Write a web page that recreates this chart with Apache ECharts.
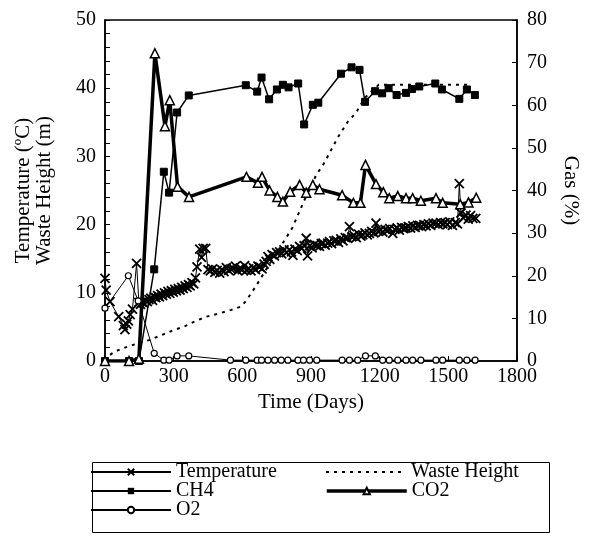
<!DOCTYPE html>
<html>
<head>
<meta charset="utf-8">
<script src="https://cdn.jsdelivr.net/npm/echarts@6/dist/echarts.min.js"></script>
<style>html,body{margin:0;padding:0;background:#fff;}#c{width:589px;height:536px;}</style>
</head>
<body>
<div id="c"></div>
<script>
// ---- data (day, value) ----
const xTicks = [0, 300, 600, 900, 1200, 1500, 1800];
const leftTicks = [0, 10, 20, 30, 40, 50];
const rightTicks = [0, 10, 20, 30, 40, 50, 60, 70, 80];

const temperature = [[0,12.1],[5,10.4],[22,8.7],[60,6.5],[80,5.2],[87,4.6],[95,5.4],[102,5.9],[110,6.8],[120,7.6],[138,14.3],[148,8.6],[155,8.3],[162,8.6],[170,8.5],[178,8.9],[185,8.7],[192,9.0],[200,9.2],[208,8.9],[215,9.4],[222,9.3],[230,9.6],[238,9.4],[245,9.8],[252,9.6],[260,10.0],[268,9.8],[275,10.2],[283,9.9],[290,10.3],[298,10.1],[305,10.5],[312,10.3],[320,10.6],[328,10.4],[335,10.8],[342,10.6],[350,11.0],[358,10.8],[365,11.2],[372,11.0],[380,11.5],[388,11.3],[395,12.2],[402,13.8],[414,16.4],[422,15.2],[429,16.5],[440,16.5],[450,13.4],[460,13.2],[470,13.5],[480,13.0],[490,13.3],[501,12.9],[510,13.4],[520,13.1],[530,13.7],[540,13.3],[550,13.5],[559,13.6],[570,13.9],[580,13.2],[590,13.6],[600,13.4],[610,14.0],[618,13.3],[628,13.5],[638,13.2],[648,13.7],[658,13.4],[668,13.9],[676,13.8],[686,13.5],[695,14.2],[704,14.6],[712,15.3],[720,14.9],[730,15.6],[740,15.4],[750,15.9],[763,16.0],[772,15.7],[782,16.3],[792,15.9],[806,16.3],[815,16.0],[821,15.5],[830,16.4],[840,16.2],[850,16.8],[860,16.5],[870,16.9],[879,18.0],[885,15.4],[895,16.9],[905,16.6],[915,17.1],[925,16.9],[937,16.8],[945,17.2],[952,17.3],[962,17.0],[973,17.3],[981,17.5],[990,17.2],[1000,17.6],[1010,17.7],[1020,17.4],[1030,17.9],[1040,17.6],[1050,18.1],[1060,18.0],[1068,19.7],[1078,18.2],[1088,18.4],[1098,18.1],[1108,18.6],[1118,18.3],[1126,18.5],[1136,18.8],[1146,18.5],[1155,18.7],[1165,19.0],[1175,18.8],[1184,20.2],[1194,19.0],[1204,19.2],[1214,18.9],[1224,19.3],[1234,19.1],[1244,19.4],[1257,18.7],[1266,19.3],[1276,19.5],[1286,19.2],[1296,19.6],[1306,19.4],[1315,19.5],[1325,19.7],[1335,19.5],[1345,19.8],[1355,19.6],[1365,19.9],[1373,19.9],[1383,19.7],[1393,20.0],[1403,19.8],[1413,20.1],[1423,19.9],[1433,20.2],[1446,20.2],[1456,20.0],[1466,20.3],[1476,20.1],[1486,20.3],[1496,20.0],[1506,20.4],[1518,19.9],[1530,20.3],[1540,20.1],[1548,26.0],[1555,21.7],[1565,21.0],[1577,21.4],[1587,20.8],[1597,21.3],[1607,20.9],[1620,20.9]];

const wasteHeight = [[22,0.9],[44,1.4],[106,2.2],[196,3.1],[247,3.8],[298,4.5],[349,5.1],[392,5.8],[443,6.5],[501,7.0],[552,7.5],[596,8.0],[618,8.9],[654,10.7],[680,12.1],[720,14.3],[760,16.4],[818,19.5],[870,23.5],[923,27.3],[952,28.7],[981,30.5],[1003,31.9],[1021,33.0],[1061,35.1],[1097,36.4],[1133,38.5],[1163,39.5],[1196,40.5],[1603,40.5]];

const ch4 = [[0,0],[105,0],[148,0],[215,21.5],[257,44.4],[280,39.5],[315,58.3],[366,62.3],[615,64.7],[665,63.2],[684,66.5],[717,61.4],[751,63.7],[777,64.8],[802,64.2],[844,65.1],[870,55.5],[908,60.1],[932,60.6],[1031,67.4],[1077,68.9],[1112,68.3],[1136,60.8],[1180,63.3],[1211,62.8],[1239,64.0],[1274,62.4],[1315,62.9],[1341,63.8],[1373,64.4],[1443,65.1],[1472,63.7],[1548,61.5],[1581,63.7],[1616,62.4]];

const co2 = [[0,0],[105,0],[148,0.5],[218,72.2],[262,55.1],[283,61.2],[317,40.9],[367,38.5],[618,43.2],[668,41.8],[686,43.2],[719,40.0],[753,38.5],[777,37.4],[809,39.7],[850,41.3],[879,39.5],[908,41.3],[937,40.3],[1036,38.9],[1085,37.1],[1116,37.1],[1138,46.0],[1184,41.5],[1216,39.6],[1242,38.2],[1279,38.7],[1315,38.2],[1344,38.2],[1380,37.6],[1446,38.2],[1475,37.1],[1552,36.8],[1588,37.2],[1622,38.3]];

const o2 = [[0,12.4],[102,20.0],[145,14.1],[215,1.8],[257,0.2],[280,0.2],[315,1.2],[366,1.2],[548,0.2],[615,0.2],[665,0.2],[684,0.2],[712,0.2],[741,0.2],[770,0.2],[799,0.2],[843,0.2],[867,0.2],[894,0.2],[925,0.2],[1036,0.2],[1068,0.2],[1104,0.2],[1138,1.2],[1181,1.2],[1213,0.2],[1242,0.2],[1279,0.2],[1315,0.2],[1344,0.2],[1380,0.2],[1446,0.2],[1475,0.2],[1548,0.2],[1581,0.2],[1617,0.2]];

const FONT = 'Liberation Serif';
const chart = echarts.init(document.getElementById('c'), null, {renderer: 'canvas'});
const legendText = {fontFamily: FONT, fontSize: 20, color: '#000'};
function oneLegend(name, left, top, extra) {
  return Object.assign({orient: 'horizontal', left: left, top: top, itemWidth: 80, itemHeight: 8, itemGap: 0,
    data: [name], textStyle: legendText, selectedMode: false}, extra || {});
}

chart.setOption({
  animation: false,
  backgroundColor: '#fff',
  grid: {left: 105, right: 71, top: 20, bottom: 175, show: true, borderColor: '#000', borderWidth: 1.5, backgroundColor: 'transparent'},
  xAxis: {
    type: 'value', min: xTicks[0], max: xTicks[xTicks.length - 1], interval: 300,
    name: 'Time (Days)', nameLocation: 'middle', nameGap: 24,
    nameTextStyle: {fontFamily: FONT, fontSize: 21, color: '#000'},
    axisLine: {lineStyle: {color: '#000', width: 1.5}},
    axisTick: {inside: true, length: 5, lineStyle: {color: '#000'}},
    axisLabel: {fontFamily: FONT, fontSize: 20, color: '#000', margin: 6, formatter: v => String(v)},
    splitLine: {show: false}
  },
  yAxis: [{
    type: 'value', min: leftTicks[0], max: leftTicks[leftTicks.length - 1], interval: 2,
    name: 'Temperature (ºC)\nWaste Height (m)', nameLocation: 'middle', nameGap: 50, nameRotate: 90,
    nameTextStyle: {fontFamily: FONT, fontSize: 21, color: '#000', lineHeight: 21},
    axisLine: {show: true, lineStyle: {color: '#000', width: 1.5}},
    axisTick: {inside: true, length: 5, lineStyle: {color: '#000'}},
    axisLabel: {fontFamily: FONT, fontSize: 20, color: '#000', margin: 9,
      formatter: v => (leftTicks.indexOf(v) >= 0 ? String(v) : '')},
    splitLine: {show: false}
  }, {
    type: 'value', min: rightTicks[0], max: rightTicks[rightTicks.length - 1], interval: 10,
    position: 'right',
    name: 'Gas (%)', nameLocation: 'middle', nameGap: 43, nameRotate: -90,
    nameTextStyle: {fontFamily: FONT, fontSize: 21, color: '#000'},
    axisLine: {show: true, lineStyle: {color: '#000', width: 1.5}},
    axisTick: {inside: true, length: 5, lineStyle: {color: '#000'}},
    axisLabel: {fontFamily: FONT, fontSize: 20, color: '#000', margin: 10, formatter: v => String(v)},
    splitLine: {show: false}
  }],
  legend: [
    oneLegend('Temperature', 85, 457),
    oneLegend('Waste Height', 320, 457, {itemStyle: {color: 'transparent', borderColor: 'transparent', borderWidth: 0}, lineStyle: {width: 2}}),
    oneLegend('CH4', 85, 476),
    oneLegend('CO2', 320, 476, {lineStyle: {width: 3.5}}),
    oneLegend('O2', 85, 495)
  ],
  graphic: [{
    type: 'rect', left: 90, top: 460, shape: {width: 457, height: 70},
    style: {fill: 'none', stroke: '#000', lineWidth: 1}, silent: true
  }],
  series: [{
    name: 'Temperature', type: 'line', yAxisIndex: 0, data: temperature,
    symbol: 'path://M0,0L10,10M0,10L10,0', symbolSize: 9,
    itemStyle: {color: '#000', borderColor: '#000', borderWidth: 1.8},
    lineStyle: {color: '#000', width: 1}, emphasis: {disabled: true}, z: 2
  }, {
    name: 'Waste Height', type: 'line', yAxisIndex: 0, data: wasteHeight,
    symbol: 'none',
    itemStyle: {color: '#000'},
    lineStyle: {color: '#000', width: 2, type: [3, 5]}, emphasis: {disabled: true}, z: 2
  }, {
    name: 'CH4', type: 'line', yAxisIndex: 1, data: ch4,
    symbol: 'rect', symbolSize: 7,
    itemStyle: {color: '#000', borderColor: '#000'},
    lineStyle: {color: '#000', width: 1.5}, emphasis: {disabled: true}, z: 3
  }, {
    name: 'CO2', type: 'line', yAxisIndex: 1, data: co2,
    symbol: 'triangle', symbolSize: 9,
    itemStyle: {color: '#fff', borderColor: '#000', borderWidth: 1.5},
    lineStyle: {color: '#000', width: 3.5}, emphasis: {disabled: true}, z: 4
  }, {
    name: 'O2', type: 'line', yAxisIndex: 1, data: o2,
    symbol: 'circle', symbolSize: 6,
    itemStyle: {color: '#fff', borderColor: '#000', borderWidth: 1.2},
    lineStyle: {color: '#000', width: 1}, emphasis: {disabled: true}, z: 5
  }]
});
</script>
</body>
</html>
